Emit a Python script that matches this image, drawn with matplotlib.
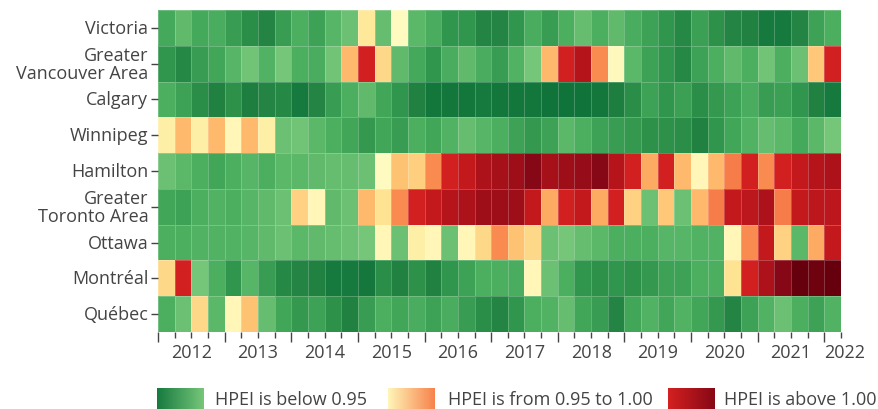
import numpy as np
import matplotlib
matplotlib.use("Agg")
import matplotlib.pyplot as plt
from matplotlib.colors import LinearSegmentedColormap, Normalize
from matplotlib.transforms import blended_transform_factory

plt.rcParams['font.family'] = ['Open Sans', 'DejaVu Sans']

# cities, top to bottom
cities = ["Victoria", "Greater\nVancouver Area", "Calgary", "Winnipeg", "Hamilton",
          "Greater\nToronto Area", "Ottawa", "Montréal", "Québec"]

# quarterly HPEI, 2012 Q1 .. 2022 Q1 (41 quarters)
victoria = [0.88, 0.91, 0.88, 0.885, 0.86, 0.84, 0.83, 0.86, 0.89, 0.87,
            0.90, 0.92, 0.96, 0.915, 0.951, 0.905, 0.885, 0.85, 0.85, 0.83,
            0.83, 0.85, 0.885, 0.86, 0.89, 0.915, 0.89, 0.91, 0.885, 0.87,
            0.85, 0.835, 0.865, 0.845, 0.83, 0.825, 0.81, 0.81, 0.83, 0.87, 0.89]
vancouver = [0.85, 0.835, 0.86, 0.875, 0.90, 0.925, 0.895, 0.93, 0.89, 0.885,
             0.925, 0.975, 1.03, 0.965, 0.91, 0.88, 0.85, 0.885, 0.91, 0.885,
             0.86, 0.895, 0.93, 0.975, 1.03, 1.05, 0.99, 0.952, 0.905, 0.87,
             0.85, 0.835, 0.87, 0.89, 0.91, 0.89, 0.925, 0.89, 0.92, 0.97, 1.03]
calgary = [0.89, 0.87, 0.84, 0.825, 0.845, 0.82, 0.83, 0.835, 0.81, 0.83,
           0.86, 0.89, 0.91, 0.875, 0.85, 0.825, 0.805, 0.805, 0.805, 0.81,
           0.805, 0.805, 0.805, 0.80, 0.80, 0.80, 0.805, 0.82, 0.84, 0.87,
           0.85, 0.865, 0.84, 0.855, 0.87, 0.885, 0.86, 0.865, 0.85, 0.825, 0.81]
winnipeg = [0.957, 0.975, 0.957, 0.975, 0.953, 0.975, 0.957, 0.92, 0.925, 0.905,
            0.89, 0.875, 0.855, 0.875, 0.86, 0.89, 0.875, 0.895, 0.915, 0.90,
            0.89, 0.87, 0.855, 0.87, 0.905, 0.89, 0.87, 0.86, 0.855, 0.845,
            0.845, 0.84, 0.825, 0.85, 0.875, 0.895, 0.915, 0.905, 0.88, 0.905, 0.93]
hamilton = [0.92, 0.905, 0.89, 0.875, 0.89, 0.90, 0.89, 0.905, 0.905, 0.91,
            0.915, 0.915, 0.92, 0.951, 0.972, 0.968, 0.99, 1.03, 1.04, 1.055,
            1.06, 1.065, 1.08, 1.06, 1.065, 1.07, 1.08, 1.05, 1.03, 0.98,
            1.03, 0.975, 0.953, 0.975, 0.995, 1.03, 0.99, 1.03, 1.04, 1.05, 1.055]
toronto = [0.875, 0.87, 0.89, 0.895, 0.89, 0.90, 0.91, 0.92, 0.967, 0.953,
           0.91, 0.92, 0.975, 0.962, 0.99, 1.03, 1.04, 1.05, 1.055, 1.065,
           1.065, 1.065, 1.04, 0.98, 1.03, 1.04, 0.98, 1.03, 0.967, 0.92,
           0.97, 0.92, 0.975, 0.995, 1.04, 1.045, 1.055, 0.995, 1.04, 1.045, 1.045]
ottawa = [0.89, 0.89, 0.895, 0.895, 0.895, 0.90, 0.91, 0.92, 0.905, 0.91,
          0.915, 0.92, 0.93, 0.953, 0.92, 0.957, 0.953, 0.92, 0.953, 0.965,
          0.99, 0.972, 0.965, 0.92, 0.93, 0.915, 0.905, 0.89, 0.89, 0.89,
          0.90, 0.90, 0.895, 0.895, 0.953, 0.99, 1.04, 0.967, 0.905, 0.98, 1.04]
montreal = [0.965, 1.03, 0.93, 0.89, 0.85, 0.90, 0.86, 0.835, 0.83, 0.825,
            0.81, 0.81, 0.808, 0.84, 0.825, 0.845, 0.825, 0.85, 0.87, 0.89,
            0.89, 0.885, 0.953, 0.92, 0.89, 0.85, 0.845, 0.85, 0.845, 0.855,
            0.87, 0.87, 0.89, 0.89, 0.962, 1.03, 1.055, 1.08, 1.10, 1.095, 1.10]
quebec = [0.89, 0.92, 0.965, 0.905, 0.953, 0.972, 0.915, 0.875, 0.855, 0.87,
          0.845, 0.825, 0.86, 0.89, 0.875, 0.885, 0.87, 0.885, 0.86, 0.84,
          0.83, 0.85, 0.89, 0.895, 0.915, 0.875, 0.86, 0.83, 0.875, 0.895,
          0.875, 0.895, 0.875, 0.855, 0.83, 0.87, 0.895, 0.92, 0.89, 0.87, 0.895]

years = list(range(2012, 2023))
legend_labels = ["HPEI is below 0.95", "HPEI is from 0.95 to 1.00", "HPEI is above 1.00"]

hpei = np.array([victoria, vancouver, calgary, winnipeg, hamilton,
                 toronto, ottawa, montreal, quebec])

# three-band colour scale: greens / yellow-orange / reds
vmin, vmax = 0.80, 1.10
stops = [(0.80, "#10733a"), (0.83, "#238443"), (0.85, "#31964d"), (0.89, "#4caf60"),
         (0.93, "#76c679"), (0.95, "#80ca7e"),
         (0.95, "#fffcc4"), (0.96, "#fee99a"), (0.97, "#fec878"), (0.98, "#fdaa62"),
         (0.99, "#f98b50"), (1.00, "#f46d43"),
         (1.00, "#d7221f"), (1.03, "#d21f20"), (1.05, "#b5141b"), (1.08, "#860816"),
         (1.10, "#67000d")]
cmap = LinearSegmentedColormap.from_list(
    "hpei", [((v - vmin) / (vmax - vmin), c) for v, c in stops], N=2048)

fig = plt.figure(figsize=(8.79, 4.10), dpi=100)
ax = fig.add_axes([158 / 879, 1 - 333 / 410, 683 / 879, 322 / 410])

n_q = hpei.shape[1]
x_edges = 2012 + np.arange(n_q + 1) / 4
y_edges = np.arange(len(cities) + 1)
ax.pcolormesh(x_edges, y_edges, hpei, cmap=cmap, norm=Normalize(vmin, vmax),
              edgecolors=(1, 1, 1, 0.22), linewidth=0.6)
ax.set_xlim(x_edges[0], x_edges[-1])
ax.set_ylim(len(cities), 0)

for s in ax.spines.values():
    s.set_visible(False)

txt_color = "#444444"
ax.set_yticks(np.arange(len(cities)) + 0.5)
ax.set_yticklabels(cities, fontsize=13, color=txt_color, linespacing=1.0)
for lab in ax.get_yticklabels():
    lab.set_horizontalalignment("right")
    lab.set_verticalalignment("center")
ax.tick_params(axis="y", length=5, width=1, color=txt_color, pad=2)

ax.set_xticks(np.arange(2012, 2023))
ax.set_xticks(x_edges, minor=True)
ax.set_xticklabels([])
ax.tick_params(axis="x", which="major", length=7, width=1, color=txt_color)
ax.tick_params(axis="x", which="minor", length=4, width=1, color=txt_color)

trans = blended_transform_factory(ax.transData, ax.transAxes)
for yr in years:
    xc = yr + 0.5 if yr < 2022 else 2022.3
    ax.text(xc, -0.062, str(yr), transform=trans, ha="center", va="center",
            fontsize=13, color=txt_color)

# legend: gradient swatches
swatch_cmaps = [["#167a3f", "#76c679"], ["#fff5b8", "#f7834c"], ["#d42020", "#860816"]]
swatch_x = [157, 388, 668]
text_x = [215, 448, 724]
grad = np.linspace(0, 1, 100).reshape(1, -1)
for cols, sx, tx, lab in zip(swatch_cmaps, swatch_x, text_x, legend_labels):
    lax = fig.add_axes([sx / 879, 1 - 410 / 410, 47 / 879, 21 / 410])
    lax.imshow(grad, aspect="auto", cmap=LinearSegmentedColormap.from_list("s", cols))
    lax.set_axis_off()
    fig.text(tx / 879, 1 - 400 / 410, lab, ha="left", va="center",
             fontsize=13, color=txt_color)

fig.savefig("out.png", dpi=100)
